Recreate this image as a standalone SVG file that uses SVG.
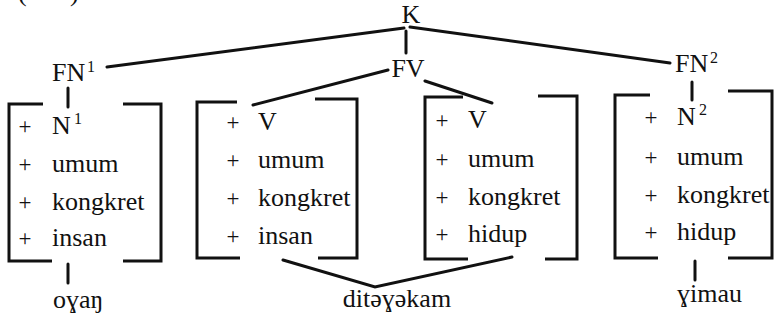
<svg xmlns="http://www.w3.org/2000/svg" width="778" height="321" viewBox="0 0 778 321" font-family="'Liberation Serif','Times New Roman','DejaVu Serif',serif">
<style>
text{font-family:"Liberation Serif","Times New Roman","Noto Serif","DejaVu Serif",serif;fill:#111;font-size:26px}
.p{font-size:23px;text-anchor:middle}
.sup{font-size:16px}
.br{fill:none;stroke:#111;stroke-width:3;stroke-linejoin:miter}
.ln{fill:none;stroke:#111;stroke-width:3;stroke-linecap:round}
</style>
<rect width="778" height="321" fill="#fff"/>
<text x="18" y="1">(</text><text x="70" y="1">)</text>
<g id="connectors">
<path class="ln" d="M404 28 L107 67"/>
<path class="ln" d="M410 27 L670 63"/>
<path class="ln" d="M406 31 V53"/>
<path class="ln" d="M388 70 L253 105"/>
<path class="ln" d="M425 81 L492 103"/>
<path class="ln" d="M68 88 V107"/>
<path class="ln" d="M692 82 V100"/>
<path class="ln" d="M68 264 V283"/>
<path class="ln" d="M283 260 L375 287 L512 257"/>
<path class="ln" d="M695 261 V280"/>
</g>
<g id="K"><text x="411" y="23" text-anchor="middle">K</text></g>
<g id="FN1"><text x="52" y="81">FN</text><text class="sup" x="87" y="72">1</text></g>
<g id="FV"><text x="408" y="77" text-anchor="middle">FV</text></g>
<g id="FN2"><text x="675" y="72">FN</text><text class="sup" x="710" y="63">2</text></g>
<g id="box1">
<path class="br" d="M43 104 H9 V261 H52"/>
<path class="br" d="M123 104 H161 V261 H123"/>
<text class="p" x="25" y="134">+</text><text x="52" y="134">N</text><text class="sup" x="74" y="124">1</text>
<text class="p" x="25" y="172">+</text><text x="52" y="172">umum</text>
<text class="p" x="25" y="210">+</text><text x="52" y="210">kongkret</text>
<text class="p" x="25" y="246">+</text><text x="52" y="246">insan</text>
</g>
<g id="box2">
<path class="br" d="M237 102 H197 V258 H240"/>
<path class="br" d="M315 99 H357 V258 H318"/>
<text class="p" x="233" y="130">+</text><text x="258" y="130">V</text>
<text class="p" x="233" y="168">+</text><text x="258" y="168">umum</text>
<text class="p" x="233" y="206">+</text><text x="258" y="206">kongkret</text>
<text class="p" x="233" y="244">+</text><text x="258" y="244">insan</text>
</g>
<g id="box3">
<path class="br" d="M463 97 H425 V259 H468"/>
<path class="br" d="M538 96 H577 V259 H545"/>
<text class="p" x="442" y="128">+</text><text x="468" y="128">V</text>
<text class="p" x="442" y="167">+</text><text x="468" y="167">umum</text>
<text class="p" x="442" y="205">+</text><text x="468" y="205">kongkret</text>
<text class="p" x="442" y="242">+</text><text x="468" y="242">hidup</text>
</g>
<g id="box4">
<path class="br" d="M650 95 H615 V258 H658"/>
<path class="br" d="M728 91 H772 V258 H728"/>
<text class="p" x="651" y="125">+</text><text x="677" y="125">N</text><text class="sup" x="699" y="115">2</text>
<text class="p" x="651" y="165">+</text><text x="677" y="165">umum</text>
<text class="p" x="651" y="203">+</text><text x="677" y="203">kongkret</text>
<text class="p" x="651" y="240">+</text><text x="677" y="240">hidup</text>
</g>
<g id="oran"><text x="53" y="308">oɣaŋ</text></g>
<g id="ditebekam"><text x="397" y="307" text-anchor="middle">ditəɣəkam</text></g>
<g id="bimau"><text x="677" y="302">ɣimau</text></g>
</svg>
